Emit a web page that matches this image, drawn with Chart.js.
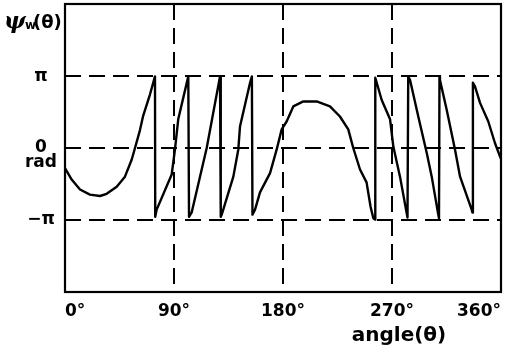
<!DOCTYPE html>
<html>
<head>
<meta charset="utf-8">
<script src="https://cdn.jsdelivr.net/npm/chart.js"></script>
<style>
html, body { margin: 0; padding: 0; background: #fff; }
#wrap { width: 509px; height: 353px; }
</style>
</head>
<body>
<div id="wrap"><canvas id="phase_chart"></canvas></div>
<script>
// angle in degrees, phase in units of pi
const angles = [
    0, 5.5, 12.4, 20.6, 28.9, 34.4, 42.7, 49.5, 55.1, 57.8, 61.9, 64.4, 70.2, 74.3,
    74.5, 75.7, 88.1, 90.8, 93.5, 101.8,
    102.4, 104.6, 117.0, 128.0,
    128.6, 129.4, 139.0, 143.1, 144.5, 152.8, 154.3,
    154.8, 156.9, 161.0, 169.3, 174.8, 178.9, 183.0, 188.5, 196.8, 207.8, 218.8, 227.0,
    233.9, 238.0, 243.6, 249.0, 252.3, 254.6, 256.0,
    256.2, 261.5, 268.4, 271.1, 276.6, 282.8,
    283.4, 284.9, 291.7, 298.7, 302.8, 308.2, 308.8,
    309.2, 309.6, 315.2, 322.0, 326.2, 335.8, 336.4,
    336.8, 338.5, 342.7, 349.5, 355.0, 359.2, 360
];
const phase = [
    -0.28, -0.44, -0.58, -0.65, -0.67, -0.64, -0.54, -0.40, -0.16, 0, 0.25, 0.44, 0.75, 1.0,
    -0.96, -0.86, -0.37, -0.02, 0.40, 1.0,
    -0.96, -0.90, 0, 1.0,
    -0.96, -0.93, -0.40, -0.02, 0.30, 0.91, 1.0,
    -0.93, -0.86, -0.62, -0.35, -0.02, 0.26, 0.37, 0.58, 0.65, 0.65, 0.58, 0.44,
    0.26, 0, -0.30, -0.48, -0.82, -0.98, -1.0,
    0.98, 0.67, 0.40, 0.02, -0.40, -0.97,
    1.0, 0.95, 0.44, -0.07, -0.40, -0.93, -0.98,
    1.0, 0.95, 0.53, -0.02, -0.40, -0.86, -0.90,
    0.91, 0.86, 0.63, 0.37, 0.07, -0.12, -0.15
];
const xTicks = [0, 90, 180, 270, 360];
const xTickLabels = ['0°', '90°', '180°', '270°', '360°'];
const yTicks = [-1, 0, 1];
const yTickLabels = ['−π', ['', '0', 'rad'], 'π'];

const FONT = "'DejaVu Sans', sans-serif";

// solid frame around the plot area
const framePlugin = {
    id: 'frame',
    afterDraw(chart) {
        const { ctx, chartArea: a } = chart;
        ctx.save();
        ctx.strokeStyle = '#000';
        ctx.lineWidth = 2.2;
        ctx.strokeRect(a.left, a.top, a.right - a.left, a.bottom - a.top);
        ctx.restore();
    }
};

// axis titles: psi_w(theta) top-left, angle(theta) under the x labels
const titlesPlugin = {
    id: 'titles',
    afterDraw(chart) {
        const { ctx, chartArea: a } = chart;
        ctx.save();
        ctx.fillStyle = '#000';
        ctx.textBaseline = 'alphabetic';
        ctx.textAlign = 'left';
        ctx.font = "bold italic 23px 'DejaVu Serif', serif";
        ctx.fillText('ψ', a.left - 61, a.top + 24);
        ctx.font = 'bold 12px ' + FONT;
        ctx.fillText('w', a.left - 40, a.top + 25);
        ctx.font = 'bold 18px ' + FONT;
        ctx.fillText('(θ)', a.left - 32, a.top + 24);

        ctx.font = 'bold 20px ' + FONT;
        ctx.textAlign = 'center';
        ctx.fillText('angle(θ)', a.right - 102, a.bottom + 49);
        ctx.restore();
    }
};

new Chart(document.getElementById('phase_chart'), {
    type: 'line',
    data: {
        datasets: [{
            data: angles.map((a, i) => ({ x: a, y: phase[i] })),
            borderColor: '#000',
            borderWidth: 2.4,
            borderJoinStyle: 'round',
            borderCapStyle: 'round',
            pointRadius: 0,
            tension: 0,
            fill: false
        }]
    },
    options: {
        responsive: true,
        maintainAspectRatio: false,
        animation: false,
        devicePixelRatio: 1,
        layout: { padding: { left: 0, right: 8, top: 4, bottom: 0 } },
        plugins: {
            legend: { display: false },
            tooltip: { enabled: false }
        },
        scales: {
            x: {
                type: 'linear',
                min: 0,
                max: 360,
                afterBuildTicks: s => { s.ticks = xTicks.map(v => ({ value: v })); },
                afterFit: s => { s.height = 61; s.paddingLeft = 0; s.paddingRight = 0; },
                grid: { color: '#000', lineWidth: 2, drawTicks: false },
                border: { display: false, dash: [16, 8] },
                ticks: {
                    align: 'inner',
                    padding: 9,
                    color: '#000',
                    maxRotation: 0,
                    font: { family: FONT, size: 17, weight: 'bold' },
                    callback: v => xTickLabels[xTicks.indexOf(v)]
                }
            },
            y: {
                type: 'linear',
                min: -2.01,
                max: 2.01,
                afterBuildTicks: s => { s.ticks = yTicks.map(v => ({ value: v })); },
                afterFit: s => { s.width = 65; s.paddingTop = 0; s.paddingBottom = 0; },
                grid: { color: '#000', lineWidth: 2, drawTicks: false },
                border: { display: false, dash: [16, 8] },
                ticks: {
                    crossAlign: 'center',
                    padding: 8,
                    color: '#000',
                    font: { family: FONT, size: 17, weight: 'bold', lineHeight: 0.85 },
                    callback: v => yTickLabels[yTicks.indexOf(v)]
                }
            }
        }
    },
    plugins: [framePlugin, titlesPlugin]
});
</script>
</body>
</html>
